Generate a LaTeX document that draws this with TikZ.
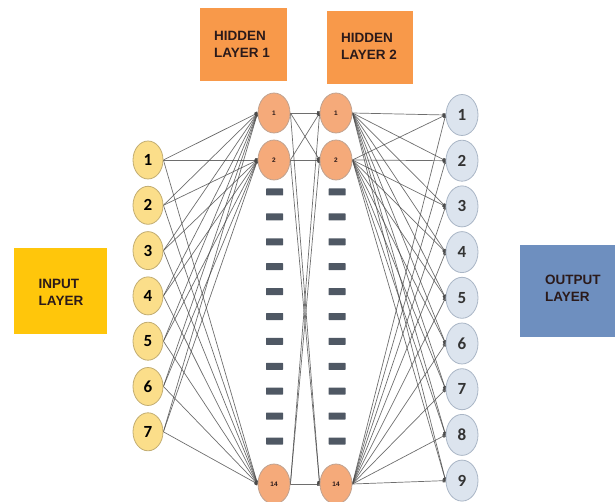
\documentclass[tikz,border=0pt]{standalone}
\usepackage{fontspec}
\setmainfont{Liberation Sans}
\newfontfamily\numfont{Carlito}
\usetikzlibrary{arrows.meta,shapes.geometric}
\pgfdeclarelayer{bg}
\pgfsetlayers{bg,main}

\definecolor{infill}{HTML}{FBDE8A}
\definecolor{inrim}{HTML}{C2AD72}
\definecolor{hidfill}{HTML}{F5AA7A}
\definecolor{hidrim}{HTML}{BFA290}
\definecolor{outfill}{HTML}{DCE4EE}
\definecolor{outrim}{HTML}{AAB6C6}
\definecolor{hidbox}{HTML}{F8994A}
\definecolor{inbox}{HTML}{FFC60B}
\definecolor{outbox}{HTML}{6E8FBF}
\definecolor{dashcol}{HTML}{4F5864}
\definecolor{labeltext}{HTML}{2B1A1A}
\definecolor{wire}{HTML}{4A4A4A}

\tikzset{
  neuron/.style={ellipse, draw, line width=0.8pt, inner sep=0pt},
  inneuron/.style={neuron, fill=infill, draw=inrim, minimum width=30pt, minimum height=38pt,
    font=\numfont\bfseries\fontsize{17}{17}\selectfont},
  hidneuron/.style={neuron, fill=hidfill, draw=hidrim, minimum width=32pt, minimum height=40pt,
    font=\bfseries\fontsize{6.5}{6.5}\selectfont, text=labeltext},
  outneuron/.style={neuron, fill=outfill, draw=outrim, minimum width=32pt, minimum height=41pt,
    font=\numfont\bfseries\fontsize{17}{17}\selectfont, text=black!80},
  layerbox/.style={inner sep=0pt, align=left, text=labeltext,
    font=\bfseries\fontsize{13.5}{17}\selectfont},
  gap/.style={fill=dashcol, minimum width=17pt, minimum height=7pt, inner sep=0pt, rounded corners=0.5pt},
  wireline/.style={draw=wire, line width=0.7pt, opacity=0.8, -{Square[length=3pt,width=3.4pt]}}
}

\begin{document}
\begin{tikzpicture}[x=1pt,y=-1pt]
\useasboundingbox (0,0) rectangle (615,502);

% layer labels
\fill[hidbox] (200,8) rectangle (287,81);
\node[layerbox] (lh1) at (242,44) {HIDDEN\\LAYER 1};
\fill[hidbox] (327,11) rectangle (413,84);
\node[layerbox] (lh2) at (369,46) {HIDDEN\\LAYER 2};
\fill[inbox] (14,248) rectangle (107,334);
\node[layerbox] (lin) at (61,292) {INPUT\\LAYER};
\fill[outbox] (520,245) rectangle (615,337);
\node[layerbox, anchor=west] (lout) at (545,288) {OUTPUT\\LAYER};

% input neurons
\foreach \i in {1,...,7}
  \node[inneuron] (in\i) at (148,{160+45.3*(\i-1)}) {\i};

% hidden neurons (first, second and last of each hidden layer)
\node[hidneuron] (ha1) at (274,113) {1};
\node[hidneuron] (ha2) at (274,160) {2};
\node[hidneuron] (ha3) at (274,484) {14};
\node[hidneuron] (hb1) at (336,113) {1};
\node[hidneuron] (hb2) at (336,160) {2};
\node[hidneuron] (hb3) at (336,484) {14};

% omitted hidden neurons
\foreach \k in {0,...,10} {
  \node[gap] (ga\k) at (274.5,{192+24.9*\k}) {};
  \node[gap] (gb\k) at (337,{192+24.9*\k}) {};
}

% output neurons
\foreach \i in {1,...,9}
  \node[outneuron] (out\i) at (462,{115+45.7*(\i-1)}) {\i};

% connections
\begin{pgfonlayer}{bg}
\foreach \i in {1,...,7}
  \foreach \h in {1,2,3}
    \draw[wireline] (in\i.east) -- (ha\h.west);
\foreach \a in {1,2,3}
  \foreach \b in {1,2,3}
    \draw[wireline] (ha\a.east) -- (hb\b.west);
\foreach \b in {1,2,3}
  \foreach \o in {1,...,9}
    \draw[wireline] (hb\b.east) -- (out\o.west);
\end{pgfonlayer}
\end{tikzpicture}
\end{document}
